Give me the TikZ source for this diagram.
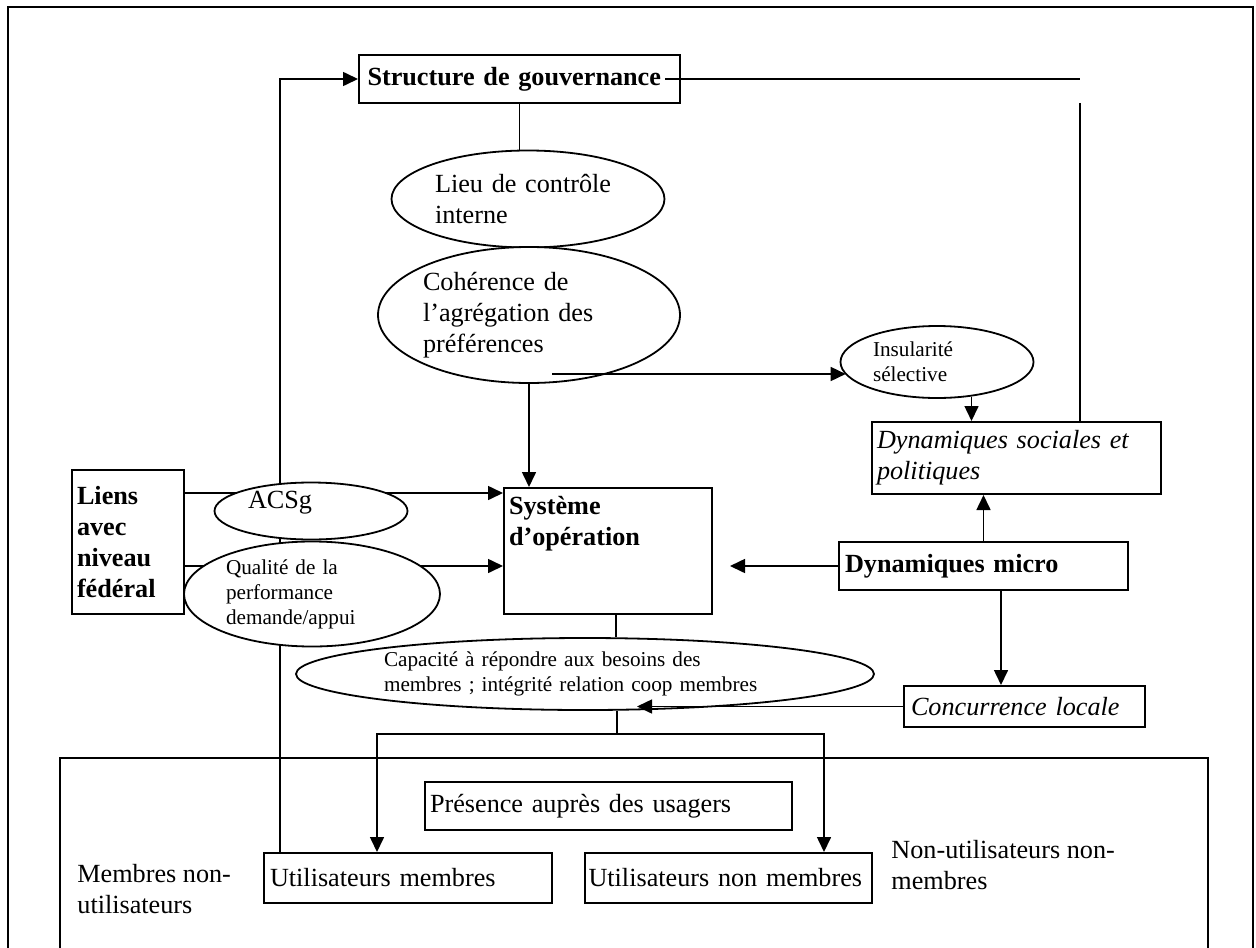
\documentclass[tikz,border=0pt]{standalone}
\usepackage{fontspec}
\setmainfont{Liberation Serif}
\usepackage{tikz}
\usetikzlibrary{arrows.meta,shapes.geometric,backgrounds}
\newcommand{\grand}{\fontsize{13.1}{15.5}\selectfont}
\newcommand{\petit}{\fontsize{10.6}{12.5}\selectfont}
\tikzset{
    >={Triangle[length=7.5pt,width=7pt]},
    boite/.style={
        rectangle,
        draw=black, line width=1pt,
        fill=white,
        inner sep=0pt,
        align=left,
        font=\grand
    },
    bulle/.style={
        ellipse,
        draw=black, line width=0.9pt,
        fill=white,
        inner sep=0pt,
        align=left,
        font=\grand
    },
    petitebulle/.style={bulle, font=\petit},
    trait/.style={draw, line width=0.8pt},
    cadre/.style={draw, line width=1pt}
}

\begin{document}
\begin{tikzpicture}[x=0.5pt,y=-0.5pt]
\useasboundingbox (0,0) rectangle (1256,947);

% cadres
\draw[cadre] (8,960) -- (8,7) -- (1253,7) -- (1253,960);
\draw[cadre] (60,960) -- (60,758) -- (1208,758) -- (1208,960);

% boites et bulles
\node[boite, minimum width=160.5pt, minimum height=24pt, text width=152pt, font=\grand\bfseries] (gouv) at (519.5,79) {Structure de gouvernance};
\node[bulle, minimum width=136.5pt, minimum height=48.5pt, text width=93pt] (lieu) at (528,199) {Lieu de contrôle\\interne};
\node[bulle, minimum width=151pt, minimum height=68pt, text width=106pt] (coher) at (529,315) {Cohérence de\\l’agrégation des\\préférences};
\node[petitebulle, minimum width=96.5pt, minimum height=36pt, text width=64pt] (insul) at (937,362) {Insularité\\sélective};
\node[boite, minimum width=144.5pt, minimum height=36pt, text width=139.5pt, font=\grand\itshape] (dynsoc) at (1016.5,458) {Dynamiques sociales et\\politiques};
\node[boite, minimum width=56pt, minimum height=72pt, text width=51pt, font=\grand\bfseries] (liens) at (128,542) {Liens\\avec\\niveau\\fédéral};
\node[bulle, minimum width=96.5pt, minimum height=28.5pt, text width=63pt, text depth=11pt] (acsg) at (311,511) {ACSg};
\node[petitebulle, minimum width=128pt, minimum height=52.5pt, text width=86pt] (qual) at (312,594) {Qualité de la\\performance\\demande/appui};
\node[boite, minimum width=104pt, minimum height=63pt, text width=99pt, text depth=45.5pt, font=\grand\bfseries] (sys) at (608,551) {Système\\d’opération};
\node[boite, minimum width=144.5pt, minimum height=24pt, text width=138.5pt, font=\grand\bfseries] (micro) at (983.5,566) {Dynamiques micro};
\node[petitebulle, minimum width=289pt, minimum height=36pt, text width=201pt] (capa) at (585,674) {Capacité à répondre aux besoins des\\membres ; intégrité relation coop membres};
\node[boite, minimum width=120.5pt, minimum height=20.5pt, text width=113.5pt, font=\grand\itshape] (conc) at (1024.5,706.5) {Concurrence locale};
\node[boite, minimum width=183.5pt, minimum height=24pt, text width=178.5pt] (pres) at (608.5,806) {Présence auprès des usagers};
\node[boite, minimum width=144pt, minimum height=25pt, text width=138pt] (um) at (408,878) {Utilisateurs membres};
\node[boite, minimum width=143.5pt, minimum height=25pt, text width=140pt] (unm) at (728.5,878) {Utilisateurs non membres};
\node[align=left, anchor=west, inner sep=0pt, font=\grand] (mnu) at (77,889) {Membres non-\\utilisateurs};
\node[align=left, anchor=west, inner sep=0pt, font=\grand] (nunm) at (891,865) {Non-utilisateurs non-\\membres};

\coordinate (fil) at (280,0);
\coordinate (gouvR) at (1080,79);
\coordinate (socT) at (1080,103);
\coordinate (cohR) at (552,374);
\coordinate (microT) at (730,566);
\coordinate (capaT) at (637,706.5);
\coordinate (split) at (617,734);

% liens passant sous les bulles
\begin{scope}[on background layer]
    \draw[trait,<-] (gouv.west) -| (fil |- um.north);
    \draw[trait,->] ([yshift=24.5pt]liens.east) -- ([yshift=29pt]sys.west);
    \draw[trait,->] ([yshift=-12pt]liens.east) -- ([yshift=-7.5pt]sys.west);
    \draw[trait] (gouv.south) -- (gouv.south |- lieu.north);
    \draw[trait,->] (coher.south) -- (coher.south |- sys.north);
    \draw[trait] ([xshift=4pt]sys.south) -- ([xshift=4pt]sys.south |- capa.north);
    \draw[trait] (capa.south -| split) -- (split);
\end{scope}

\draw[trait] ([xshift=-8pt]gouv.east) -- (gouvR);
\draw[trait] (socT) -- (socT |- dynsoc.north);
\draw[trait,->] (cohR) -- (cohR -| insul.188);
\draw[trait,->] (insul.315) -- (insul.315 |- dynsoc.north);
\draw[trait,->] (micro.north) -- (micro.north |- dynsoc.south);
\draw[trait,->] (micro.west) -- (microT);
\draw[trait,->] ([xshift=8.75pt]micro.south) -- ([xshift=-11.75pt]conc.north);
\draw[trait,->] (conc.west) -- (capaT);
\draw[trait,->] (split) -| ([xshift=-15.5pt]um.north);
\draw[trait,->] (split) -| ([xshift=47.75pt]unm.north);

\end{tikzpicture}
\end{document}
